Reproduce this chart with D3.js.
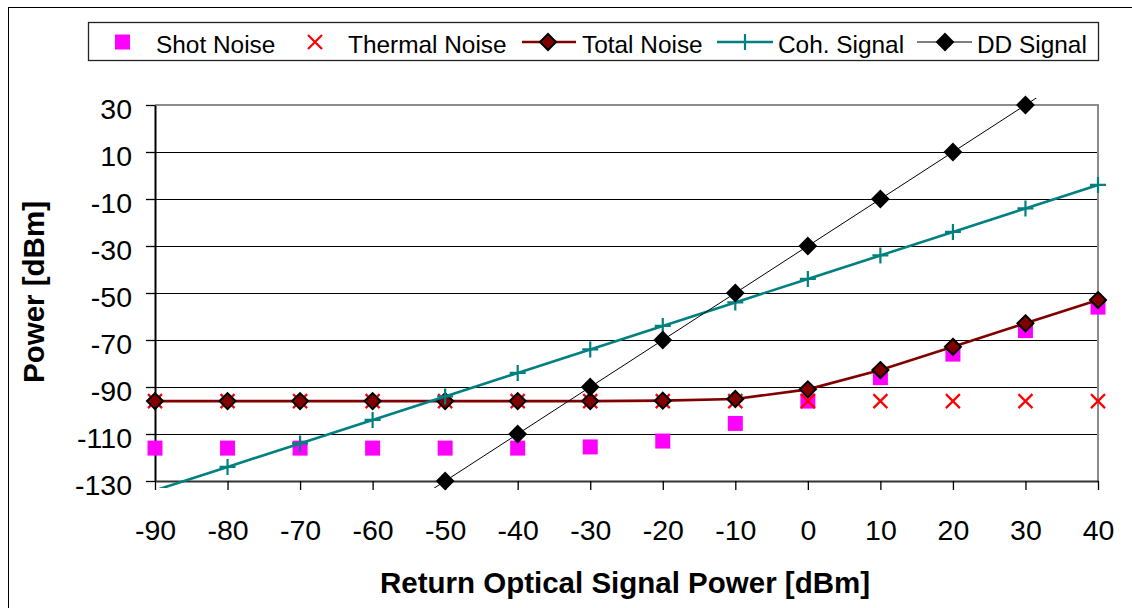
<!DOCTYPE html>
<html>
<head>
<meta charset="utf-8">
<script src="https://cdn.jsdelivr.net/npm/d3@7"></script>
<style>
html,body{margin:0;padding:0;background:#fff;}
svg{display:block;font-family:Arial,"Liberation Sans",sans-serif;}
</style>
</head>
<body>
<svg id="chart" width="1132" height="608"></svg>
<script>
const xValues = [-90,-80,-70,-60,-50,-40,-30,-20,-10,0,10,20,30,40];
const shotNoise = [-116,-116,-116,-116,-116,-116,-115.5,-113,-105.5,-96,-86,-76,-66,-56];
const thermalNoise = [-96,-96,-96,-96,-96,-96,-96,-96,-96,-96,-96,-96,-96,-96];
const totalNoise = [-96,-96,-96,-96,-96,-96,-96,-95.8,-95.1,-91,-82.8,-72.9,-62.9,-53];
const cohSignal = [-134,-124,-114,-104,-94,-84,-74,-64,-54,-44,-34,-24,-14,-4];
const ddSignal = [-210,-190,-170,-150,-130,-110,-90,-70,-50,-30,-10,10,30,50];
const yTicks = [-130,-110,-90,-70,-50,-30,-10,10,30];
const xTicks = [-90,-80,-70,-60,-50,-40,-30,-20,-10,0,10,20,30,40];
const seriesNames = ["Shot Noise","Thermal Noise","Total Noise","Coh. Signal","DD Signal"];

const svg = d3.select("#chart");
const x = d3.scaleLinear().domain([-90,40]).range([155,1098]);
const y = d3.scaleLinear().domain([-130,30]).range([481,105]);
const fmt = d => String(d);

// outer chart border
svg.append("rect").attr("x",8.5).attr("y",7.5).attr("width",1140).attr("height",620)
  .attr("fill","none").attr("stroke","#000").attr("stroke-width",1);

// gridlines
svg.append("g").selectAll("line").data(yTicks.filter(t=>t>-130 && t<30)).join("line")
  .attr("x1",x(-90)).attr("x2",x(40)).attr("y1",d=>Math.round(y(d))+0.5).attr("y2",d=>Math.round(y(d))+0.5)
  .attr("stroke","#000").attr("stroke-width",1);

// plot area border (top/right gray)
svg.append("path")
  .attr("d",`M${x(-90)},${y(30)}H${x(40)}V${y(-130)}`)
  .attr("fill","none").attr("stroke","#8c8c8c").attr("stroke-width",2);

// axes
const yAxis = d3.axisLeft(y).tickValues(yTicks).tickFormat(fmt).tickSize(9).tickSizeOuter(0).tickPadding(14);
const gy = svg.append("g").attr("transform",`translate(${x(-90)},0)`).call(yAxis);
gy.select(".domain").attr("stroke","#000").attr("stroke-width",2);
gy.selectAll(".tick line").attr("stroke","#000").attr("stroke-width",1.3);
gy.selectAll(".tick text").attr("font-size",28.5).attr("fill","#000").attr("dy","0.46em")
  .attr("font-family","Arial,'Liberation Sans',sans-serif");

const xAxis = d3.axisBottom(x).tickValues(xTicks).tickFormat(fmt).tickSize(9).tickSizeOuter(0).tickPadding(30);
const gx = svg.append("g").attr("transform",`translate(0,${y(-130)})`).call(xAxis);
gx.select(".domain").attr("stroke","#333").attr("stroke-width",2);
gx.selectAll(".tick line").attr("stroke","#000").attr("stroke-width",1.3);
gx.selectAll(".tick text").attr("font-size",28.5).attr("fill","#000")
  .attr("font-family","Arial,'Liberation Sans',sans-serif");

// axis titles
svg.append("text").attr("x",625).attr("y",593).attr("text-anchor","middle")
  .attr("font-size",29.5).attr("font-weight","bold").text("Return Optical Signal Power [dBm]");
svg.append("text").attr("transform","translate(44,292) rotate(-90)").attr("text-anchor","middle")
  .attr("font-size",29.5).attr("font-weight","bold").text("Power [dBm]");

// clip for lines
const defs = svg.append("defs");
defs.append("clipPath").attr("id","clipL").append("rect")
  .attr("x",140).attr("y",98).attr("width",980).attr("height",390);

const pts = arr => xValues.map((v,i)=>[v,arr[i]]);
const inDomain = d => d[1] >= -130 && d[1] <= 30;
const line = d3.line().x(d=>x(d[0])).y(d=>y(d[1]));

// marker makers
function square(g, cx, cy){ g.append("rect").attr("x",cx-7.5).attr("y",cy-7.5).attr("width",15).attr("height",15).attr("fill","#ff00ff"); }
function cross(g, cx, cy){ const s=7; g.append("path").attr("d",`M${cx-s},${cy-s}L${cx+s},${cy+s}M${cx-s},${cy+s}L${cx+s},${cy-s}`).attr("stroke","#ff0000").attr("stroke-width",2.2).attr("fill","none"); }
function diamond(g, cx, cy, fill, stroke){ const s=8; g.append("path").attr("d",`M${cx},${cy-s}L${cx+s},${cy}L${cx},${cy+s}L${cx-s},${cy}Z`).attr("fill",fill).attr("stroke",stroke).attr("stroke-width",2); }
function plus(g, cx, cy){ const s=8; g.append("path").attr("d",`M${cx-s},${cy}H${cx+s}M${cx},${cy-s}V${cy+s}`).attr("stroke","#008080").attr("stroke-width",2.2).attr("fill","none"); }

// Shot noise
const gS = svg.append("g");
pts(shotNoise).filter(inDomain).forEach(d=>square(gS,x(d[0]),y(d[1])));
// Thermal noise
const gT = svg.append("g");
pts(thermalNoise).filter(inDomain).forEach(d=>cross(gT,x(d[0]),y(d[1])));
// Total noise
const gN = svg.append("g");
gN.append("path").datum(pts(totalNoise)).attr("d",line).attr("clip-path","url(#clipL)")
  .attr("fill","none").attr("stroke","#800000").attr("stroke-width",2.6);
pts(totalNoise).filter(inDomain).forEach(d=>diamond(gN,x(d[0]),y(d[1]),"#800000","#000"));
// Coh signal
const gC = svg.append("g");
gC.append("path").datum(pts(cohSignal)).attr("d",line).attr("clip-path","url(#clipL)")
  .attr("fill","none").attr("stroke","#008080").attr("stroke-width",2.6);
pts(cohSignal).filter(inDomain).forEach(d=>plus(gC,x(d[0]),y(d[1])));
// DD signal
const gD = svg.append("g");
gD.append("path").datum(pts(ddSignal)).attr("d",line).attr("clip-path","url(#clipL)")
  .attr("fill","none").attr("stroke","#000").attr("stroke-width",1);
pts(ddSignal).filter(inDomain).forEach(d=>diamond(gD,x(d[0]),y(d[1]),"#000","#000"));

// legend
const lg = svg.append("g");
lg.append("rect").attr("x",88.5).attr("y",22.5).attr("width",1010).attr("height",38)
  .attr("fill","#fff").attr("stroke","#222").attr("stroke-width",1.3);
const ly = 42, lbase = 53;
square(lg,122.5,ly);
cross(lg,315,ly);
lg.append("line").attr("x1",522).attr("x2",576).attr("y1",ly).attr("y2",ly).attr("stroke","#800000").attr("stroke-width",2.6);
diamond(lg,548,ly,"#800000","#000");
lg.append("line").attr("x1",717).attr("x2",773).attr("y1",ly).attr("y2",ly).attr("stroke","#008080").attr("stroke-width",2.6);
plus(lg,745,ly);
lg.append("line").attr("x1",917).attr("x2",972).attr("y1",ly).attr("y2",ly).attr("stroke","#000").attr("stroke-width",1);
diamond(lg,945,ly,"#000","#000");
const textX = [156,348,582,778,977];
lg.selectAll("text.lt").data(seriesNames).join("text").attr("class","lt")
  .attr("x",(d,i)=>textX[i]).attr("y",lbase).attr("font-size",24.4).attr("fill","#000").text(d=>d);
</script>
</body>
</html>
